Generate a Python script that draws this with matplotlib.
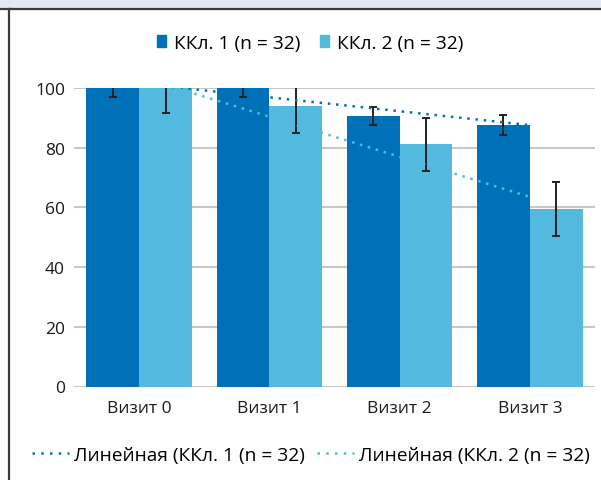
import numpy as np
import matplotlib
matplotlib.use("Agg")
import matplotlib.pyplot as plt
from matplotlib.patches import Patch, Rectangle
from matplotlib.lines import Line2D
from matplotlib import font_manager

names = {f.name for f in font_manager.fontManager.ttflist}
fam = "Liberation Sans Narrow" if "Liberation Sans Narrow" in names else "Open Sans"
plt.rcParams['font.family'] = [fam, 'DejaVu Sans']

categories = ["Визит 0", "Визит 1", "Визит 2", "Визит 3"]
series_names = ["ККл. 1 (n = 32)", "ККл. 2 (n = 32)"]
kkl1 = [100, 100, 90.6, 87.6]
kkl2 = [100, 94.0, 81.2, 59.5]
err1 = [3.1, 3.1, 3.1, 3.4]
err2 = [8.5, 9.2, 8.9, 9.0]
yticks = [0, 20, 40, 60, 80, 100]

dark = "#0071b9"
light = "#54b9df"

W, H = 601, 481
fig = plt.figure(figsize=(W / 100, H / 100), dpi=100)
ax = fig.add_axes([74 / W, (H - 387.5) / H, (595 - 74) / W, (387.5 - 89) / H])

x = np.arange(len(categories))
bw = 0.405
ax.bar(x - bw / 2, kkl1, bw, color=dark, zorder=2)
ax.bar(x + bw / 2, kkl2, bw, color=light, zorder=2)
ax.errorbar(x - bw / 2, kkl1, yerr=err1, fmt='none', ecolor="#222222", elinewidth=1.4,
            capsize=3.2, capthick=1.4, zorder=3)
ax.errorbar(x + bw / 2, kkl2, yerr=err2, fmt='none', ecolor="#222222", elinewidth=1.4,
            capsize=3.2, capthick=1.4, zorder=3)

for vals, c in ((kkl1, dark), (kkl2, light)):
    k, b = np.polyfit(x, vals, 1)
    ax.plot(x, k * x + b, color=c, lw=1.8, linestyle=(0, (1, 2.3)), zorder=4)

ax.set_xlim(-0.5, 3.5)
ax.set_ylim(0, 100)
ax.set_yticks(yticks)
ax.set_xticks(x)
ax.set_xticklabels(categories)
for s in ax.spines.values():
    s.set_visible(False)
ax.grid(axis='y', color="#c8c8c8", lw=1.5, zorder=0)
ax.set_axisbelow(True)
ax.tick_params(length=0, labelsize=12.5, colors="#1a1a1a")
ax.tick_params(axis='y', pad=6.5)
ax.tick_params(axis='x', pad=10)

h1 = [Patch(color=dark), Patch(color=light)]
fig.legend(h1, series_names, loc='center', bbox_to_anchor=(310 / W, (H - 44) / H), ncol=2,
           frameon=False, fontsize=13.8, handlelength=0.47, handleheight=0.58,
           handletextpad=0.42, columnspacing=1.05)

h2 = [Line2D([], [], color=dark, lw=1.8, linestyle=(0, (1, 2.5))),
      Line2D([], [], color=light, lw=1.8, linestyle=(0, (1, 2.5)))]
fig.legend(h2, ["Линейная (" + s for s in series_names], loc='center',
           bbox_to_anchor=(311 / W, (H - 456) / H), ncol=2, frameon=False, fontsize=13.8,
           handlelength=1.95, handletextpad=0.26, columnspacing=0.63)

fig.patches.append(Rectangle((0, (H - 9.5) / H), 1, 9.5 / H, transform=fig.transFigure,
                             color="#e2e8f4", zorder=0))
fig.lines.append(Line2D([0, 1], [(H - 10) / H] * 2, transform=fig.transFigure,
                        color="#3c3c3c", lw=1.6))
fig.lines.append(Line2D([8.5 / W] * 2, [0, (H - 10) / H], transform=fig.transFigure,
                        color="#3c3c3c", lw=1.6))

fig.savefig("out.png", dpi=100)
